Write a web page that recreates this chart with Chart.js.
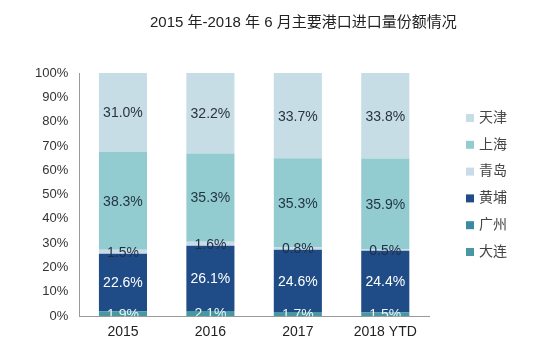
<!DOCTYPE html>
<html>
<head>
<meta charset="utf-8">
<script src="https://cdn.jsdelivr.net/npm/chart.js@4/dist/chart.umd.min.js"></script>
<style>
  html, body { margin: 0; padding: 0; background: #fff; }
  #wrap { width: 550px; height: 352px; position: relative; }
</style>
</head>
<body>
<div id="wrap"><canvas id="portChart"></canvas></div>
<script>
// data
const years = ["2015", "2016", "2017", "2018 YTD"];
const dalian = [1.9, 2.1, 1.7, 1.5];
const guangzhou = [null, null, null, null];
const huangpu = [22.6, 26.1, 24.6, 24.4];
const qingdao = [1.5, 1.6, 0.8, 0.5];
const shanghai = [38.3, 35.3, 35.3, 35.9];
const tianjin = [31.0, 32.2, 33.7, 33.8];
const yTicks = [0, 10, 20, 30, 40, 50, 60, 70, 80, 90, 100];

const FONT = "'Liberation Sans', Arial, 'Noto Sans CJK SC', sans-serif";

const series = [
  { label: "大连", values: dalian, color: "#4897a2", text: "#e8f4f5" },
  { label: "广州", values: guangzhou, color: "#3a8ba0", text: "#ffffff" },
  { label: "黄埔", values: huangpu, color: "#1f4c86", text: "#ffffff" },
  { label: "青岛", values: qingdao, color: "#c9dbe8", text: "#1f2f45" },
  { label: "上海", values: shanghai, color: "#93ccd0", text: "#1f3340" },
  { label: "天津", values: tianjin, color: "#c6dde6", text: "#2a3440" },
];

// each bar is shown as a 100% stack
const totals = years.map((y, i) =>
  series.reduce((s, d) => s + (d.values[i] || 0), 0)
);

const datasets = series.map((d) => ({
  label: d.label,
  raw: d.values,
  textColor: d.text,
  data: d.values.map((v, i) => (v == null ? null : (v / totals[i]) * 100)),
  backgroundColor: d.color,
  borderWidth: 0,
  barPercentage: 0.55,
  categoryPercentage: 1,
}));

// value labels inside segments
const valueLabels = {
  id: "valueLabels",
  afterDatasetsDraw(chart) {
    const ctx = chart.ctx;
    const area = chart.chartArea;
    ctx.save();
    ctx.beginPath();
    ctx.rect(area.left, area.top, area.right - area.left, area.bottom - area.top);
    ctx.clip();
    ctx.font = "14px " + FONT;
    ctx.textAlign = "center";
    ctx.textBaseline = "middle";
    chart.data.datasets.forEach((ds, di) => {
      const meta = chart.getDatasetMeta(di);
      meta.data.forEach((bar, i) => {
        const v = ds.raw[i];
        if (v == null) return;
        ctx.fillStyle = ds.textColor;
        ctx.fillText(v.toFixed(1) + "%", bar.x, (bar.y + bar.base) / 2 + 1);
      });
    });
    ctx.restore();
  },
};

// title and legend drawn by hand to match placement
const sideBits = {
  id: "sideBits",
  afterDraw(chart) {
    const ctx = chart.ctx;
    ctx.save();
    ctx.fillStyle = "#222";
    ctx.font = "15px " + FONT;
    ctx.textAlign = "left";
    ctx.textBaseline = "middle";
    ctx.fillText("2015 年-2018 年 6 月主要港口进口量份额情况", 150, 23);

    ctx.font = "14px " + FONT;
    const items = chart.data.datasets.slice().reverse();
    items.forEach((ds, k) => {
      const y = 118 + k * 26.8;
      ctx.fillStyle = ds.backgroundColor;
      ctx.fillRect(466, y - 4, 8, 8);
      ctx.fillStyle = "#444";
      ctx.fillText(ds.label, 479, y);
    });
    ctx.restore();
  },
};

new Chart(document.getElementById("portChart"), {
  type: "bar",
  data: { labels: years, datasets: datasets },
  options: {
    responsive: true,
    maintainAspectRatio: false,
    animation: false,
    layout: { padding: { top: 73, right: 121, bottom: 3, left: 24 } },
    plugins: {
      legend: { display: false },
      tooltip: { enabled: false },
    },
    scales: {
      x: {
        stacked: true,
        grid: { display: false, drawTicks: false },
        border: { color: "#9a9a9a", width: 1 },
        ticks: { color: "#222", font: { size: 14, family: FONT }, padding: 8 },
      },
      y: {
        stacked: true,
        min: 0,
        max: 100,
        afterBuildTicks(axis) {
          axis.ticks = yTicks.map((v) => ({ value: v }));
        },
        grid: { display: false, drawTicks: false },
        border: { color: "#9a9a9a", width: 1 },
        ticks: {
          color: "#333",
          font: { size: 13, family: FONT },
          padding: 11,
          callback: (v) => v + "%",
        },
      },
    },
  },
  plugins: [valueLabels, sideBits],
});
</script>
</body>
</html>
